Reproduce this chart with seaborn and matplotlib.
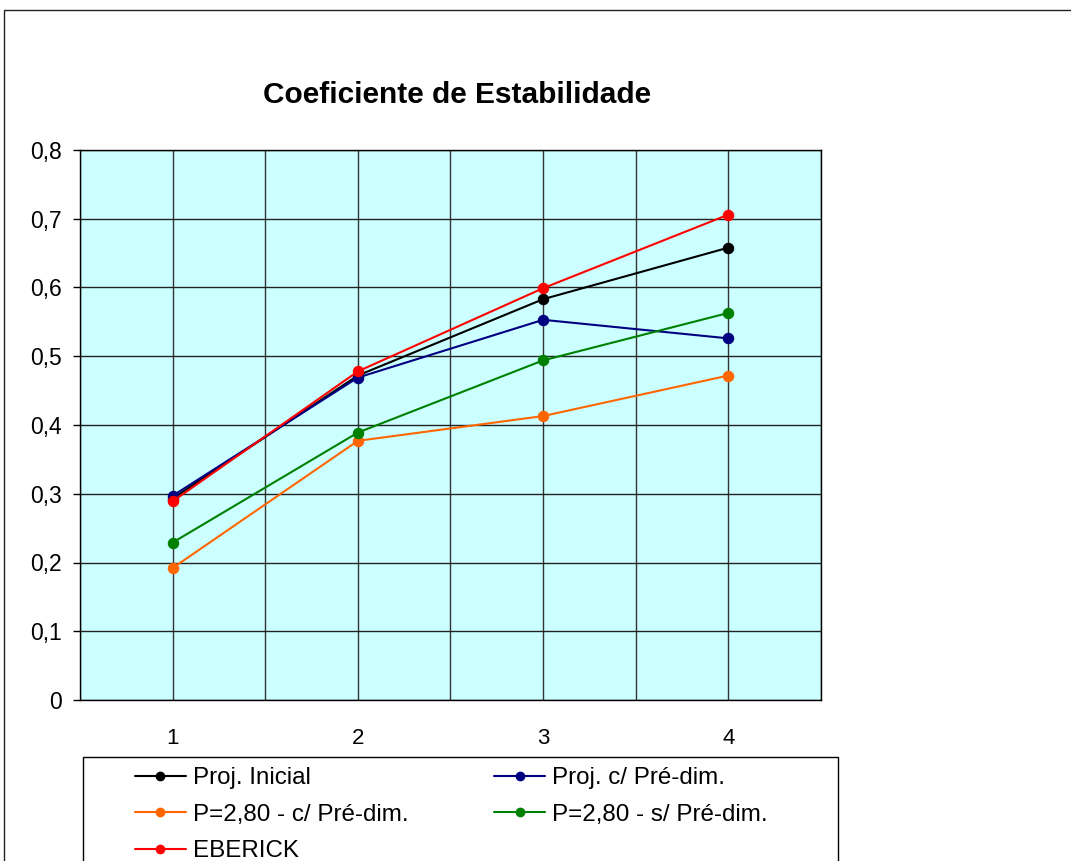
import matplotlib
matplotlib.use("Agg")
import numpy as np
import pandas as pd
import matplotlib.pyplot as plt
from matplotlib.lines import Line2D
from matplotlib.patches import Rectangle
from matplotlib.ticker import FuncFormatter, FixedLocator
import seaborn as sns

# data
pavimentos = [1, 2, 3, 4]
proj_inicial = [0.293, 0.472, 0.583, 0.658]
proj_pre_dim = [0.297, 0.469, 0.553, 0.526]
p280_c_pre = [0.192, 0.377, 0.413, 0.472]
p280_s_pre = [0.229, 0.389, 0.494, 0.563]
eberick = [0.289, 0.478, 0.599, 0.706]

series_names = ["Proj. Inicial", "Proj. c/ Pré-dim.", "P=2,80 - c/ Pré-dim.",
                "P=2,80 - s/ Pré-dim.", "EBERICK"]
series_vals = [proj_inicial, proj_pre_dim, p280_c_pre, p280_s_pre, eberick]
colors = ["#000000", "#000080", "#FF6600", "#008000", "#FF0000"]

df = pd.concat([pd.DataFrame({"x": pavimentos, "valor": v, "serie": n})
                for n, v in zip(series_names, series_vals)], ignore_index=True)

sns.set_style("white")
plt.rcParams['font.family'] = ['Liberation Sans', 'DejaVu Sans']
plt.rcParams['text.color'] = 'black'
plt.rcParams['xtick.color'] = 'black'
plt.rcParams['ytick.color'] = 'black'

fig = plt.figure(figsize=(10.71, 8.61), dpi=100)
ax = fig.add_axes([80/1071, 1-700/861, 741/1071, 550/861])
ax.set_facecolor("#CCFFFF")

sns.lineplot(data=df, x="x", y="valor", hue="serie", hue_order=series_names,
             palette=dict(zip(series_names, colors)), marker="o", markersize=7.5,
             linewidth=1.5, legend=False, ax=ax, zorder=3)
for ln in ax.lines:
    ln.set_markeredgecolor(ln.get_color())

ax.set_xlim(0.5, 4.5)
ax.set_ylim(0, 0.8)
ax.set_yticks(np.arange(0, 0.81, 0.1))
ax.yaxis.set_major_formatter(FuncFormatter(lambda v, p: ("%g" % round(v, 1)).replace(".", ",")))
ax.set_xticks(pavimentos)
ax.set_xticklabels([str(p) for p in pavimentos])
ax.xaxis.set_minor_locator(FixedLocator([0.5, 1.5, 2.5, 3.5, 4.5]))

ax.grid(True, which="both", axis="x", color="#333333", linewidth=1.0, zorder=1)
ax.grid(True, which="major", axis="y", color="#222222", linewidth=1.0, zorder=1)
ax.set_axisbelow(True)

ax.tick_params(axis="x", which="major", length=0, pad=20, labelsize=16, colors="black")
ax.tick_params(axis="x", which="minor", length=5, width=1, direction="out", color="black")
ax.tick_params(axis="y", which="major", length=5, width=1, direction="out", pad=8,
               labelsize=16.5, color="black", left=True)
ax.set_xlabel("")
ax.set_ylabel("")
for s in ax.spines.values():
    s.set_color("black")
    s.set_linewidth(1.0)

fig.text(457/1071, 1-95/861, "Coeficiente de Estabilidade", ha="center", va="center",
         fontsize=21.5, fontweight="bold", color="black")

# outer chart border (cropped on the right and bottom)
fig.patches.append(Rectangle((4/1071, -0.1), 1.2, 1-10/861+0.1, transform=fig.transFigure,
                             fill=False, edgecolor="#222222", linewidth=1.0))
# legend frame (cropped at the bottom)
fig.patches.append(Rectangle((83/1071, -0.1), (838-83)/1071, 1-757/861+0.1,
                             transform=fig.transFigure, fill=False,
                             edgecolor="black", linewidth=1.0))

handles = [Line2D([0], [0], color=c, marker="o", markersize=6, linewidth=1.5,
                  markeredgecolor=c) for c in colors]
order = [0, 2, 4, 1, 3]
fig.legend([handles[i] for i in order], [series_names[i] for i in order],
           loc="upper left", bbox_to_anchor=(135/1071, 1-767/861), ncol=2,
           frameon=False, fontsize=17.4, handlelength=2.1, handletextpad=0.3,
           columnspacing=3.55, labelspacing=0.6, borderpad=0, borderaxespad=0)

fig.savefig("out.png", dpi=100)
